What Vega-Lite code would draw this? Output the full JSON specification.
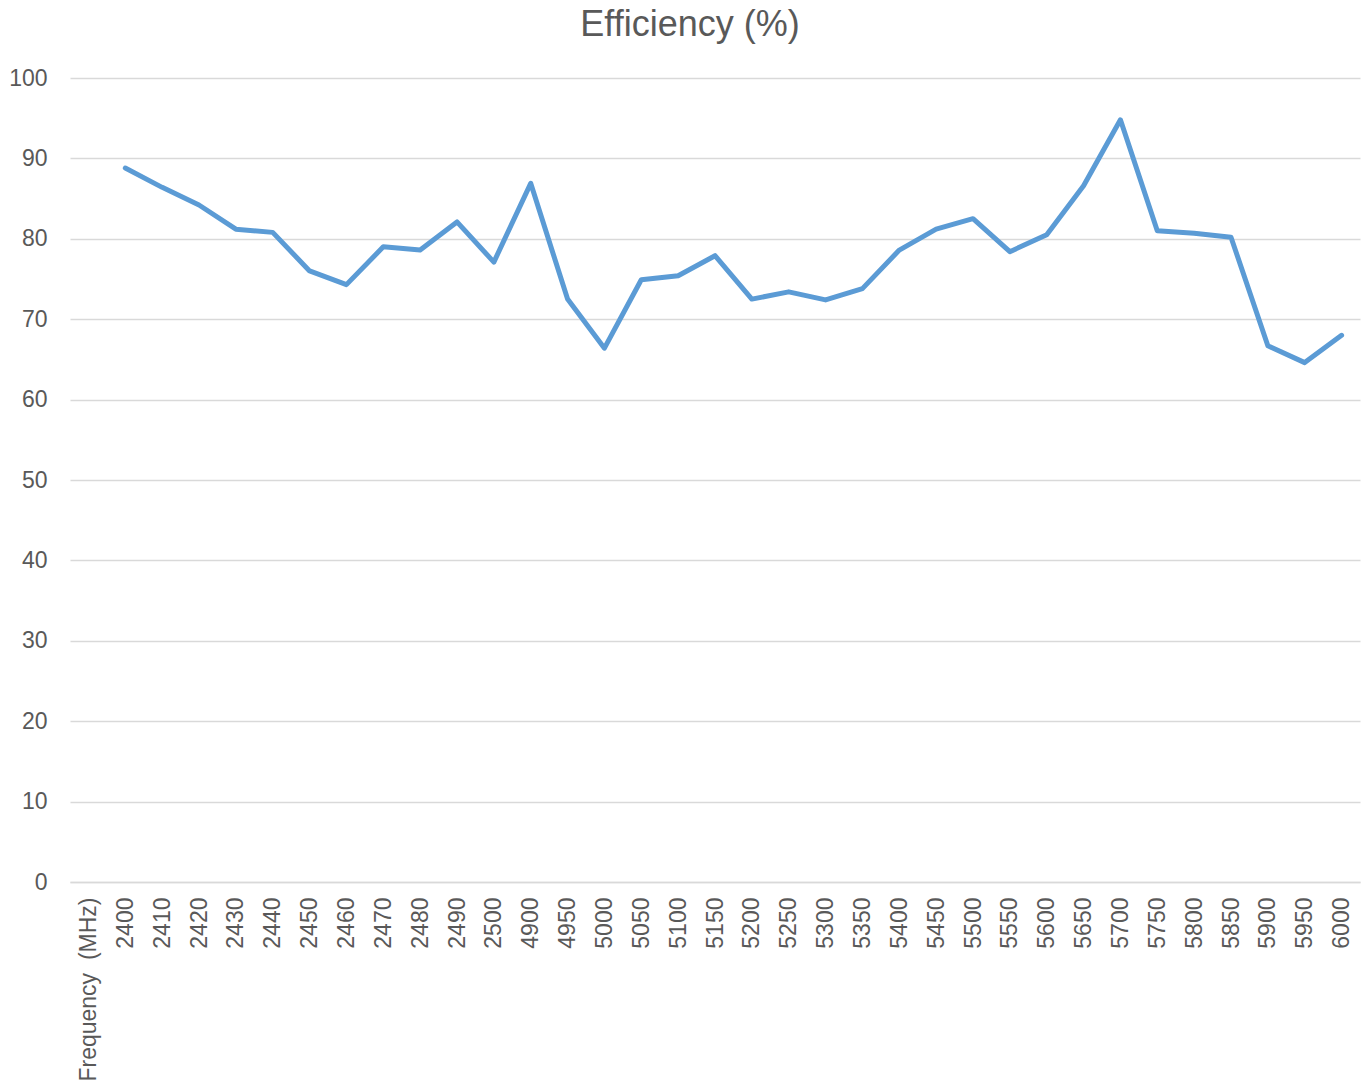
{
  "$schema": "https://vega.github.io/schema/vega-lite/v6.json",
  "autosize": {"type": "none"},
  "width": 1290,
  "height": 804,
  "padding": {"left": 70, "top": 78, "right": 1, "bottom": 206},
  "background": "white",
  "title": {
    "text": "Efficiency (%)",
    "font": "Liberation Sans",
    "fontSize": 36,
    "fontWeight": "normal",
    "color": "#595959",
    "anchor": "middle",
    "frame": "group",
    "dx": -25,
    "offset": 23
  },
  "config": {
    "view": {"stroke": null},
    "font": "Liberation Sans"
  },
  "data": {
    "values": [
      {"f": "2400", "eff": 88.8},
      {"f": "2410", "eff": 86.4},
      {"f": "2420", "eff": 84.2},
      {"f": "2430", "eff": 81.2},
      {"f": "2440", "eff": 80.8},
      {"f": "2450", "eff": 76.0},
      {"f": "2460", "eff": 74.3},
      {"f": "2470", "eff": 79.0},
      {"f": "2480", "eff": 78.6},
      {"f": "2490", "eff": 82.1},
      {"f": "2500", "eff": 77.1},
      {"f": "4900", "eff": 86.9},
      {"f": "4950", "eff": 72.5},
      {"f": "5000", "eff": 66.4},
      {"f": "5050", "eff": 74.9},
      {"f": "5100", "eff": 75.4},
      {"f": "5150", "eff": 77.9},
      {"f": "5200", "eff": 72.5},
      {"f": "5250", "eff": 73.4},
      {"f": "5300", "eff": 72.4},
      {"f": "5350", "eff": 73.8},
      {"f": "5400", "eff": 78.6},
      {"f": "5450", "eff": 81.2},
      {"f": "5500", "eff": 82.5},
      {"f": "5550", "eff": 78.4},
      {"f": "5600", "eff": 80.5},
      {"f": "5650", "eff": 86.6},
      {"f": "5700", "eff": 94.8},
      {"f": "5750", "eff": 81.0},
      {"f": "5800", "eff": 80.7},
      {"f": "5850", "eff": 80.2},
      {"f": "5900", "eff": 66.7},
      {"f": "5950", "eff": 64.6},
      {"f": "6000", "eff": 68.0}
    ]
  },
  "mark": {
    "type": "line",
    "color": "#5B9BD5",
    "strokeWidth": 5,
    "strokeCap": "round",
    "strokeJoin": "round"
  },
  "encoding": {
    "x": {
      "field": "f",
      "type": "nominal",
      "sort": null,
      "scale": {
        "type": "point",
        "padding": 0.5,
        "domain": ["Frequency\u00a0\u00a0(MHz)", "2400", "2410", "2420", "2430", "2440", "2450", "2460", "2470", "2480", "2490", "2500", "4900", "4950", "5000", "5050", "5100", "5150", "5200", "5250", "5300", "5350", "5400", "5450", "5500", "5550", "5600", "5650", "5700", "5750", "5800", "5850", "5900", "5950", "6000"]
      },
      "axis": {
        "title": null,
        "labelAngle": 270,
        "labelFontSize": 23,
        "labelColor": "#595959",
        "labelPadding": 15,
        "labelFont": "Liberation Sans",
        "labelLimit": 0,
        "ticks": false,
        "domain": true,
        "domainColor": "#d9d9d9",
        "domainWidth": 1.5,
        "grid": false,
        "labelOverlap": false
      }
    },
    "y": {
      "field": "eff",
      "type": "quantitative",
      "scale": {"domain": [0, 100], "nice": false},
      "axis": {
        "title": null,
        "values": [0, 10, 20, 30, 40, 50, 60, 70, 80, 90, 100],
        "labelFontSize": 23,
        "labelColor": "#595959",
        "labelFont": "Liberation Sans",
        "labelPadding": 23,
        "ticks": false,
        "domain": false,
        "grid": true,
        "gridColor": "#d9d9d9",
        "gridWidth": 1.5
      }
    }
  }
}
